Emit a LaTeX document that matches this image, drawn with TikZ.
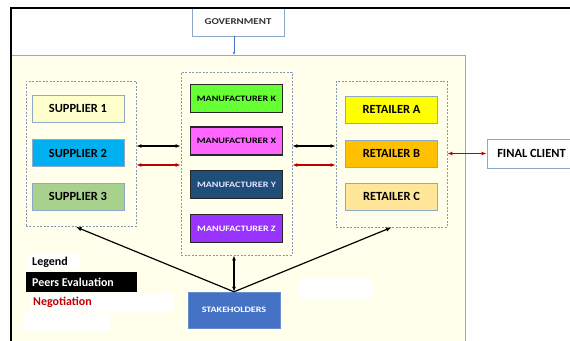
\documentclass[tikz,border=0pt]{standalone}
\usepackage{fontspec}
\setmainfont{Carlito}
\usetikzlibrary{arrows.meta}
\definecolor{cream}{HTML}{FFFFEC}
\definecolor{panelline}{HTML}{A6A6A6}
\definecolor{bordgray}{HTML}{8EA9C8}
\definecolor{dashgray}{HTML}{8497B0}
\definecolor{negred}{HTML}{C00000}
\definecolor{sone}{HTML}{FFFFCC}
\definecolor{stwo}{HTML}{00B0F0}
\definecolor{sthree}{HTML}{A9D18E}
\definecolor{mk}{HTML}{66FF33}
\definecolor{mx}{HTML}{FF66FF}
\definecolor{my}{HTML}{1F4E79}
\definecolor{mz}{HTML}{9933FF}
\definecolor{ra}{HTML}{FFFF00}
\definecolor{rb}{HTML}{FFC000}
\definecolor{rc}{HTML}{FFE699}
\definecolor{stake}{HTML}{4472C4}
\definecolor{govline}{HTML}{4472C4}
\newcommand{\hs}[1]{\scalebox{1.22}[1]{#1}}
\tikzset{
  bigbox/.style={draw=bordgray, line width=0.8bp, minimum width=92bp, minimum height=27bp, inner sep=0pt, font=\fontsize{12.5}{14}\selectfont\bfseries, text=black},
  mbox/.style={draw=black!85, line width=1.3bp, minimum width=92bp, minimum height=28bp, inner sep=0pt, font=\fontsize{8.3}{9}\selectfont\bfseries, text=black},
  grp/.style={draw=dashgray, dash pattern=on 2bp off 1.5bp, line width=0.8bp, inner sep=0pt},
  peer/.style={black, line width=1.1bp, {Latex[length=5bp,width=4bp]}-{Latex[length=5bp,width=4bp]}},
  nego/.style={negred, line width=1.1bp, {Latex[length=5bp,width=4bp]}-{Latex[length=5bp,width=4bp]}},
  tie/.style={black, line width=1.2bp, -{Latex[length=5.5bp,width=4.5bp]}},
  whitebox/.style={fill=white, draw=none, inner sep=0pt, anchor=north west},
}
\begin{document}
\begin{tikzpicture}[x=1bp,y=-1bp]
\useasboundingbox (0,0) rectangle (570,340);
\clip (0,0) rectangle (570,340);
\fill[white] (0,0) rectangle (570,340);
% panel
\fill[cream] (12,55) rectangle (465,345);
\draw[panelline, line width=0.8bp] (12,55) -- (465,55) -- (465,345);
% government
\node[draw=bordgray, line width=0.8bp, fill=white, minimum width=92bp, minimum height=28bp, inner sep=0pt, font=\fontsize{9}{10}\selectfont\bfseries, text=black!80] (gov) at (238,22) {\hs{GOVERNMENT}};
\coordinate (ptop) at (234,55);
\draw[govline, line width=0.6bp, -{Latex[length=3bp,width=2.5bp]}] (gov.south -| ptop) -- (ptop);
% frame
\draw[black, line width=2bp] (11,345) -- (11,8) -- (575,8);
% groups
\node[grp, minimum width=110bp, minimum height=145bp] (sgrp) at (81,153.5) {};
\node[grp, minimum width=111bp, minimum height=183bp] (mgrp) at (236.5,163.5) {};
\node[grp, minimum width=111bp, minimum height=146bp] (rgrp) at (391.5,154) {};
% suppliers
\node[bigbox, fill=sone] (s1) at (78,108.5) {SUPPLIER 1};
\node[bigbox, fill=stwo] (s2) at (78,153) {SUPPLIER 2};
\node[bigbox, fill=sthree] (s3) at (78,196.5) {SUPPLIER 3};
% manufacturers
\node[mbox, fill=mk] (m1) at (236.5,98.5) {\hs{MANUFACTURER K}};
\node[mbox, fill=mx] (m2) at (236.5,141) {\hs{MANUFACTURER X}};
\node[mbox, fill=my, text=white!90!blue] (m3) at (236.5,184.5) {\hs{MANUFACTURER Y}};
\node[mbox, fill=mz, text=white] (m4) at (236.5,228.5) {\hs{MANUFACTURER Z}};
% retailers
\node[bigbox, fill=ra] (r1) at (391.5,109.5) {RETAILER A};
\node[bigbox, fill=rb] (r2) at (391.5,153.5) {RETAILER B};
\node[bigbox, fill=rc] (r3) at (391.5,196.5) {RETAILER C};
% final client
\node[bigbox, fill=white, minimum width=89bp, minimum height=29bp] (fc) at (531.5,153.5) {FINAL CLIENT};
% stakeholders
\node[draw=stake!80!white, fill=stake, minimum width=92bp, minimum height=36bp, inner sep=0pt, font=\fontsize{8.3}{9}\selectfont\bfseries, text=white] (sh) at (234,310) {\hs{STAKEHOLDERS}};
% arrows between groups
\coordinate (pe) at (0,146);
\coordinate (ng) at (0,165);
\draw[peer] (sgrp.east |- pe) -- (mgrp.west |- pe);
\draw[nego] (sgrp.east |- ng) -- (mgrp.west |- ng);
\draw[peer] (mgrp.east |- pe) -- (rgrp.west |- pe);
\draw[nego] (mgrp.east |- ng) -- (rgrp.west |- ng);
\draw[nego] (rgrp.east |- fc) -- (fc.west);
% stakeholder links
\coordinate (sleft) at (76,227);
\draw[tie] (sh.north) -- (sleft);
\draw[tie] (sh.north) -- (rgrp.south);
\draw[peer] (mgrp.south -| sh.north) -- (sh.north);
% legend
\node[whitebox, minimum width=53bp, minimum height=16bp] (lgbg) at (27,254) {};
\node[anchor=west, inner sep=0pt, font=\fontsize{12}{13}\selectfont\bfseries, text=black] (lg) at (32,262) {Legend};
\node[whitebox, fill=black, minimum width=111bp, minimum height=20bp] (pebg) at (26,272) {};
\node[anchor=west, inner sep=0pt, font=\fontsize{12}{13}\selectfont\bfseries, text=white] (pet) at (32,282) {Peers Evaluation};
\node[whitebox, minimum width=144bp, minimum height=19bp] (ngbg) at (30,293) {};
\node[anchor=west, inner sep=0pt, font=\fontsize{12}{13}\selectfont\bfseries, text=negred] (ngt) at (33,302.5) {Negotiation};
\node[whitebox, minimum width=87bp, minimum height=18bp] (wb1) at (23,313) {};
\node[whitebox, minimum width=72bp, minimum height=22bp] (wb2) at (300,277) {};
\end{tikzpicture}
\end{document}
